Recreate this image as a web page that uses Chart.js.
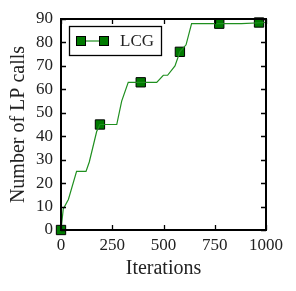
<!DOCTYPE html>
<html>
<head>
<meta charset="utf-8">
<script src="https://cdn.jsdelivr.net/npm/chart.js@4.4.0/dist/chart.umd.min.js"></script>
<style>
  html, body { margin: 0; padding: 0; background: #fff; }
  #wrap { width: 296px; height: 291px; }
</style>
</head>
<body>
<div id="wrap"><canvas id="c" width="296" height="291"></canvas></div>
<script>
// ---- Data ----
const iterX   = [0, 11, 36, 76, 122, 138, 174, 190, 272, 296, 328, 389, 467, 499, 520, 556, 580, 610, 637, 880, 1000];
const lpCalls = [0, 9, 13, 25, 25, 29, 42, 45, 45, 55, 63, 63, 63, 66, 66, 70, 76, 79, 88, 88, 88.5];
const markerX = [0, 190, 389, 580, 772, 966];
const markerY = [0, 45, 63, 76, 88, 88.5];
const xTicks  = [0, 250, 500, 750, 1000];
const yTicks  = [0, 10, 20, 30, 40, 50, 60, 70, 80, 90];

const LINE_COL = '#1f8f1f';
const MARK_COL = '#007a00';
const SERIF = "'Liberation Serif', 'DejaVu Serif', serif";

// inward ticks on all four sides + frame
const frameTicks = {
  id: 'frameTicks',
  afterDraw(chart) {
    const { ctx, chartArea: a, scales } = chart;
    ctx.save();
    ctx.strokeStyle = '#000';
    ctx.lineWidth = 1.3;
    const L = 5;
    xTicks.forEach(v => {
      const px = Math.round(scales.x.getPixelForValue(v)) + 0.5;
      ctx.beginPath();
      ctx.moveTo(px, a.bottom); ctx.lineTo(px, a.bottom - L);
      ctx.moveTo(px, a.top); ctx.lineTo(px, a.top + L);
      ctx.stroke();
    });
    yTicks.forEach(v => {
      const py = Math.round(scales.y.getPixelForValue(v)) + 0.5;
      ctx.beginPath();
      ctx.moveTo(a.left, py); ctx.lineTo(a.left + L, py);
      ctx.moveTo(a.right, py); ctx.lineTo(a.right - L, py);
      ctx.stroke();
    });
    ctx.lineWidth = 2;
    ctx.strokeRect(a.left, a.top, a.right - a.left, a.bottom - a.top);
    ctx.restore();
  }
};

// matplotlib-like legend box: line with a marker at both ends
const mplLegend = {
  id: 'mplLegend',
  afterDraw(chart) {
    const { ctx, chartArea: a } = chart;
    const x0 = a.left + 8, y0 = a.top + 7, w = 92, h = 29;
    ctx.save();
    ctx.fillStyle = '#fff';
    ctx.fillRect(x0, y0, w, h);
    ctx.strokeStyle = '#000';
    ctx.lineWidth = 1.3;
    ctx.strokeRect(x0 + 0.5, y0 + 0.5, w, h);
    const cy = y0 + h / 2 + 0.5;
    ctx.strokeStyle = LINE_COL;
    ctx.lineWidth = 1.2;
    ctx.beginPath();
    ctx.moveTo(x0 + 12, cy); ctx.lineTo(x0 + 35, cy);
    ctx.stroke();
    [x0 + 12, x0 + 35].forEach(mx => {
      ctx.fillStyle = MARK_COL;
      ctx.fillRect(mx - 4.5, cy - 4.5, 9, 9);
      ctx.strokeStyle = '#000';
      ctx.lineWidth = 1;
      ctx.strokeRect(mx - 4.5, cy - 4.5, 9, 9);
    });
    ctx.fillStyle = '#222';
    ctx.font = '17px ' + SERIF;
    ctx.textBaseline = 'middle';
    ctx.fillText('LCG', x0 + 51, cy + 1);
    ctx.restore();
  }
};

new Chart(document.getElementById('c'), {
  type: 'scatter',
  data: {
    datasets: [{
      label: 'LCG',
      data: iterX.map((x, i) => ({ x, y: lpCalls[i] })),
      showLine: true,
      borderColor: LINE_COL,
      borderWidth: 1.2,
      pointRadius: 0,
      tension: 0
    }, {
      label: 'LCG markers',
      data: markerX.map((x, i) => ({ x, y: markerY[i] })),
      showLine: false,
      pointStyle: 'rect',
      pointRadius: 6.6,
      backgroundColor: MARK_COL,
      borderColor: '#000',
      borderWidth: 1
    }]
  },
  options: {
    responsive: false,
    animation: false,
    clip: false,
    layout: { padding: { left: 7, right: 30, top: 19, bottom: 10 } },
    plugins: { legend: { display: false }, tooltip: { enabled: false } },
    scales: {
      x: {
        type: 'linear', min: 0, max: 1000,
        afterBuildTicks: s => { s.ticks = xTicks.map(v => ({ value: v })); },
        afterFit: s => { s.height = 51; },
        grid: { display: false, drawTicks: false },
        border: { display: false },
        ticks: { color: '#222', padding: 5, maxRotation: 0, font: { family: SERIF, size: 17 }, callback: v => String(v) },
        title: { display: true, text: 'Iterations', color: '#222', padding: { top: 2, bottom: 0 }, font: { family: SERIF, size: 20 } }
      },
      y: {
        type: 'linear', min: 0, max: 90,
        afterBuildTicks: s => { s.ticks = yTicks.map(v => ({ value: v })); },
        afterFit: s => { s.width = 54; },
        grid: { display: false, drawTicks: false },
        border: { display: false },
        ticks: { color: '#222', padding: 8, font: { family: SERIF, size: 17 }, callback: v => String(v) },
        title: { display: true, text: 'Number of LP calls', color: '#222', padding: { top: 0, bottom: 2 }, font: { family: SERIF, size: 20 } }
      }
    }
  },
  plugins: [frameTicks, mplLegend]
});
</script>
</body>
</html>
